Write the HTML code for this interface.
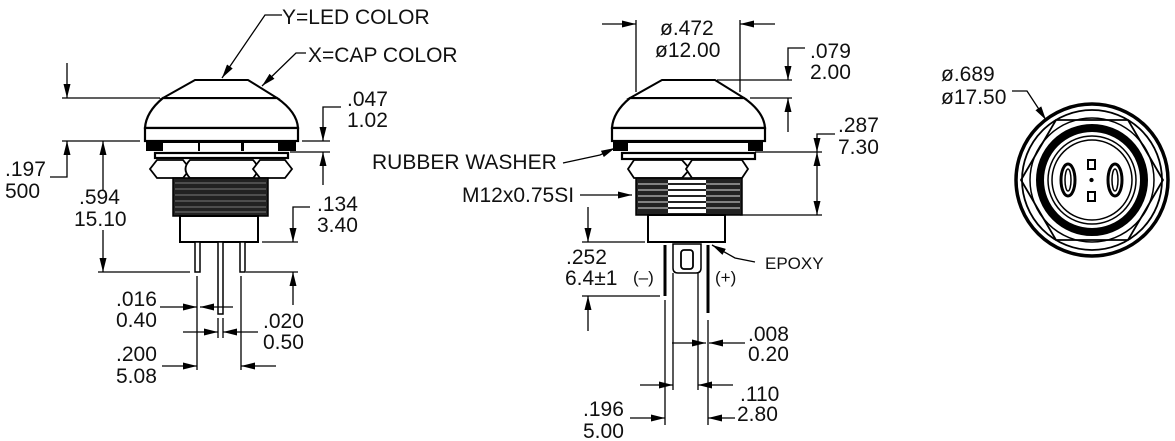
<!DOCTYPE html>
<html><head><meta charset="utf-8"><style>
html,body{margin:0;padding:0;background:#fff;}
svg{display:block;}
text{font-family:"Liberation Sans",sans-serif;font-size:21px;fill:#111;}
</style></head><body>
<svg width="1175" height="441" viewBox="0 0 1175 441" xmlns="http://www.w3.org/2000/svg">
<defs>
<marker id="a" viewBox="0 0 14 7" refX="14" refY="3.5" markerWidth="14" markerHeight="7" markerUnits="userSpaceOnUse" orient="auto-start-reverse"><path d="M0,0L14,3.5L0,7z" fill="#000"/></marker>
<g id="cap">
<path d="M163,98 L277,98 Q297,112 298,128 L145,128 Q146,112 163,98 Z" fill="#fff" stroke="#000" stroke-width="2.2"/>
<path d="M195,80 L248,80 L277,98 L163,98 Z" fill="#fff" stroke="#000" stroke-width="2"/>
<rect x="145" y="128" width="153" height="13" fill="#fff" stroke="#000" stroke-width="2.2"/>
</g>
</defs>
<g fill="none" stroke="#000" stroke-width="1.3">
<!-- LEFT VIEW -->
<use href="#cap"/>
<rect x="146" y="141" width="150" height="10" fill="#000" stroke="none"/>
<rect x="163" y="143" width="35" height="8" fill="#fff" stroke="none"/>
<rect x="200" y="143" width="41" height="8" fill="#fff" stroke="none"/>
<rect x="244" y="143" width="34" height="8" fill="#fff" stroke="none"/>
<rect x="155" y="153" width="133" height="5" fill="#fff" stroke-width="2.2"/>
<path d="M157,160 L183,160 L190,169 L183,178 L157,178 L150,169Z" fill="#fff" stroke-width="1.8"/>
<path d="M190,160 L253,160 Q262,169 253,178 L190,178 Q181,169 190,160Z" fill="#fff" stroke-width="1.8"/>
<path d="M260,160 L285,160 L292,169 L285,178 L260,178 L253,169Z" fill="#fff" stroke-width="1.8"/>
<rect x="173" y="178" width="95" height="38" fill="#222" stroke="#000" stroke-width="1.5"/>
<g stroke="#999" stroke-width="0.8"><path d="M175,183H266M175,189H266M175,195H266M175,201H266M175,207H266M175,212H266"/></g>
<rect x="180" y="216" width="78" height="26" fill="#fff" stroke-width="2"/>
<rect x="195" y="242" width="5" height="30" fill="#fff" stroke-width="1.5"/>
<rect x="218" y="242" width="5" height="72" fill="#fff" stroke-width="1.5"/>
<rect x="240" y="242" width="5" height="30" fill="#fff" stroke-width="1.5"/>
<!-- left dims -->
<path d="M62,98H160"/><path d="M67,63V98" marker-end="url(#a)"/>
<path d="M62,141H140"/><path d="M50,177H67V141" marker-end="url(#a)"/>
<path d="M103,190V141" marker-end="url(#a)"/><path d="M103,230V272" marker-end="url(#a)"/><path d="M98,272H190"/>
<path d="M302,141H330"/><path d="M341,107H323V141" marker-end="url(#a)"/>
<path d="M290,152H330"/><path d="M323,185V152" marker-end="url(#a)"/>
<path d="M262,242H298"/><path d="M310,207H293V242" marker-end="url(#a)"/>
<path d="M246,272H298"/><path d="M293,305V272" marker-end="url(#a)"/>
<path d="M197,276V370M241,276V370M218,318V338M223,318V338"/>
<path d="M160,307H197" marker-end="url(#a)"/><path d="M233,307H200" marker-end="url(#a)"/>
<path d="M183,332H218" marker-end="url(#a)"/><path d="M258,332H223" marker-end="url(#a)"/>
<path d="M162,366H197" marker-end="url(#a)"/><path d="M276,366H241" marker-end="url(#a)"/>
<path d="M282,15H265L222,78" marker-end="url(#a)"/>
<path d="M306,53H296L262,86" marker-end="url(#a)"/>

<!-- MIDDLE VIEW -->
<use href="#cap" transform="translate(467,0)"/>
<rect x="613" y="141" width="150" height="10" fill="#000" stroke="none"/>
<rect x="628" y="143" width="120" height="8" fill="#fff" stroke="none"/>
<rect x="622" y="153" width="133" height="6" fill="#fff" stroke-width="2.2"/>
<path d="M634,160 L682,160 L690,169 L682,178 L634,178 L628,169Z" fill="#fff" stroke-width="1.8"/>
<path d="M692,160 L742,160 L748,169 L742,178 L692,178 L686,169Z" fill="#fff" stroke-width="1.8"/>
<rect x="636" y="178" width="106" height="37" fill="#222" stroke-width="1.5"/>
<g stroke="#bbb" stroke-width="1.3"><path d="M638,184H740M638,190H740M638,196H740M638,202H740M638,208H740"/></g>
<rect x="668" y="180" width="38" height="33" fill="#fff" stroke="none"/>
<g stroke="#222" stroke-width="2"><path d="M668,184H706M668,190H706M668,196H706M668,202H706M668,208H706"/></g>
<rect x="648" y="215" width="77" height="27" fill="#fff" stroke-width="2"/>
<path d="M665,245V296M708,245V313" stroke-width="3"/>
<path d="M673,244H701V268Q701,273 696,273H678Q673,273 673,268Z" fill="#fff" stroke-width="1.5"/>
<rect x="681" y="250" width="12" height="19" rx="3" fill="#fff" stroke-width="1.8"/>
<path d="M673,273V390M698,273V390M665,300V425M708,320V425"/>
<!-- middle dims -->
<path d="M636,20V92M740,20V92"/>
<path d="M602,24H636" marker-end="url(#a)"/><path d="M775,24H740" marker-end="url(#a)"/>
<path d="M717,80H792M750,98H792"/>
<path d="M805,48H788V80" marker-end="url(#a)"/><path d="M788,132V98" marker-end="url(#a)"/>
<path d="M755,152H822M740,215H822"/>
<path d="M835,134H817V152" marker-end="url(#a)"/><path d="M817,185V215" marker-end="url(#a)"/><path d="M817,185V152" marker-end="url(#a)"/>
<path d="M563,163L600,155L615,148" marker-end="url(#a)"/>
<path d="M580,195H632" marker-end="url(#a)"/>
<path d="M582,242H645M582,296H660"/>
<path d="M588,207V242" marker-end="url(#a)"/><path d="M588,331V296" marker-end="url(#a)"/>
<path d="M755,262L735,258L712,245" marker-end="url(#a)"/>
<path d="M672,343H706" marker-end="url(#a)"/><path d="M745,343H709" marker-end="url(#a)"/>
<path d="M640,385H673" marker-end="url(#a)"/><path d="M733,385H698" marker-end="url(#a)"/>
<path d="M630,418H665" marker-end="url(#a)"/><path d="M735,418H708" marker-end="url(#a)"/>

<!-- RIGHT VIEW -->
<circle cx="1092" cy="180" r="76" stroke-width="3.5"/>
<circle cx="1092" cy="180" r="70" stroke-width="1.8"/>
<path d="M1021,180L1056,120H1128L1163,180L1128,240H1056Z" stroke-width="1.8"/>
<circle cx="1092" cy="180" r="62" stroke-width="1.5"/>
<circle cx="1092" cy="180" r="52" stroke-width="8"/>
<circle cx="1092" cy="180" r="44" stroke-width="1.5"/>
<circle cx="1092" cy="180" r="40" stroke-width="1.5"/>
<ellipse cx="1068" cy="180" rx="7" ry="16" stroke-width="3"/>
<ellipse cx="1068" cy="180" rx="3" ry="11" stroke-width="1.5"/>
<ellipse cx="1115" cy="180" rx="7" ry="16" stroke-width="3"/>
<ellipse cx="1115" cy="180" rx="3" ry="11" stroke-width="1.5"/>
<rect x="1088" y="160" width="7" height="9" stroke-width="2"/>
<rect x="1088" y="192" width="7" height="9" stroke-width="2"/>
<circle cx="1091.5" cy="180" r="1.5" fill="#000"/>
<path d="M1012,91H1027L1046,120" marker-end="url(#a)"/>
</g>
<g>
<text x="282" y="24">Y=LED COLOR</text>
<text x="308" y="62">X=CAP COLOR</text>
<text x="5" y="176">.197</text><text x="5" y="198">500</text>
<text x="79" y="204">.594</text><text x="74" y="226">15.10</text>
<text x="347" y="106">.047</text><text x="347" y="127">1.02</text>
<text x="317" y="211">.134</text><text x="317" y="232">3.40</text>
<text x="116" y="306">.016</text><text x="116" y="327">0.40</text>
<text x="263" y="328">.020</text><text x="263" y="349">0.50</text>
<text x="116" y="361">.200</text><text x="116" y="383">5.08</text>
<text x="660" y="35">ø.472</text><text x="655" y="57">ø12.00</text>
<text x="810" y="58">.079</text><text x="810" y="79">2.00</text>
<text x="838" y="132">.287</text><text x="838" y="154">7.30</text>
<text x="372" y="169">RUBBER WASHER</text>
<text x="462" y="202">M12x0.75SI</text>
<text x="566" y="264">.252</text><text x="565" y="285">6.4±1</text>
<text x="633" y="283" style="font-size:17px">(–)</text><text x="715" y="283" style="font-size:17px">(+)</text>
<text x="765" y="269" style="font-size:17px">EPOXY</text>
<text x="748" y="341">.008</text><text x="748" y="361">0.20</text>
<text x="740" y="401">.110</text><text x="737" y="421">2.80</text>
<text x="583" y="416">.196</text><text x="583" y="438">5.00</text>
<text x="941" y="81">ø.689</text><text x="941" y="104">ø17.50</text>
</g>
</svg>
</body></html>
